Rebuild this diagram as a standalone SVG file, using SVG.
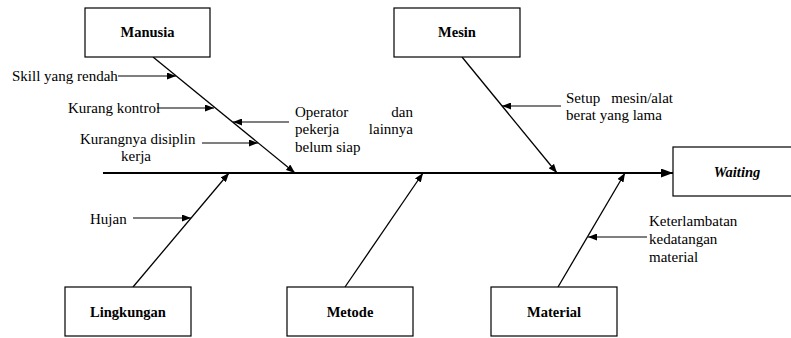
<svg xmlns="http://www.w3.org/2000/svg" width="791" height="338" viewBox="0 0 791 338">
<style>
.box{fill:#fff;stroke:#000;stroke-width:1.2}
.lbl{font-size:14.5px;font-weight:bold;text-anchor:middle;fill:#000}
.t{font-size:15px;fill:#000}
.sm{stroke:#000;stroke-width:1.1;fill:none;marker-end:url(#ah)}
.br{stroke:#000;stroke-width:1.3;fill:none;marker-end:url(#ah)}
</style>
<defs>
<marker id="ah" markerWidth="9" markerHeight="7" refX="9" refY="3.5" orient="auto" markerUnits="userSpaceOnUse">
<path d="M0,0 L9,3.5 L0,7 z" fill="#000"/>
</marker>
<marker id="ahBig" markerWidth="12" markerHeight="9" refX="12" refY="4.5" orient="auto" markerUnits="userSpaceOnUse">
<path d="M0,0 L12,4.5 L0,9 z" fill="#000"/>
</marker>
</defs>
<rect width="791" height="338" fill="#fff"/>
<g id="connectors">
<line x1="103" y1="173" x2="673" y2="173" stroke="#000" stroke-width="2.2" marker-end="url(#ahBig)"/>
<line class="br" x1="153" y1="57" x2="295" y2="173"/>
<line class="br" x1="462" y1="57" x2="557" y2="173"/>
<line class="br" x1="133" y1="287" x2="229" y2="173"/>
<line class="br" x1="345" y1="287" x2="423" y2="173"/>
<line class="br" x1="558" y1="287" x2="625" y2="173"/>
<line class="sm" x1="118" y1="76" x2="176" y2="76"/>
<line class="sm" x1="157" y1="108" x2="214" y2="108"/>
<line class="sm" x1="289" y1="122" x2="233" y2="122"/>
<line class="sm" x1="202" y1="143" x2="258" y2="143"/>
<line class="sm" x1="561" y1="106" x2="502" y2="106"/>
<line class="sm" x1="133" y1="218" x2="191" y2="218"/>
<line class="sm" x1="647" y1="237" x2="588" y2="237"/>
</g>
<g font-family="Liberation Serif, Times New Roman, serif">
<g id="manusia">
<rect class="box" x="85" y="8" width="125" height="49"/>
<text class="lbl" x="147.5" y="37">Manusia</text>
</g>
<g id="mesin">
<rect class="box" x="394" y="8" width="126" height="49"/>
<text class="lbl" x="457" y="37">Mesin</text>
</g>
<g id="waiting">
<rect class="box" x="673" y="147" width="125" height="49"/>
<text class="lbl" x="737" y="177" font-style="italic">Waiting</text>
</g>
<g id="lingkungan">
<rect class="box" x="65" y="287" width="126" height="49"/>
<text class="lbl" x="128" y="317">Lingkungan</text>
</g>
<g id="metode">
<rect class="box" x="287" y="287" width="126" height="49"/>
<text class="lbl" x="350" y="317">Metode</text>
</g>
<g id="material">
<rect class="box" x="491" y="287" width="126" height="49"/>
<text class="lbl" x="554" y="317">Material</text>
</g>
<g id="causes">
<text class="t" x="12" y="81">Skill yang rendah</text>
<text class="t" x="68" y="113">Kurang kontrol</text>
<text class="t" x="295" y="117">Operator</text>
<text class="t" x="413" y="117" text-anchor="end">dan</text>
<text class="t" x="295" y="134">pekerja</text>
<text class="t" x="413" y="134" text-anchor="end">lainnya</text>
<text class="t" x="295" y="152">belum siap</text>
<text class="t" x="80" y="144">Kurangnya disiplin</text>
<text class="t" x="121" y="161">kerja</text>
<text class="t" x="566" y="103">Setup</text>
<text class="t" x="673" y="103" text-anchor="end">mesin/alat</text>
<text class="t" x="566" y="120">berat yang lama</text>
<text class="t" x="90" y="224">Hujan</text>
<text class="t" x="649" y="226">Keterlambatan</text>
<text class="t" x="649" y="244">kedatangan</text>
<text class="t" x="649" y="262">material</text>
</g>
</g>
</svg>
